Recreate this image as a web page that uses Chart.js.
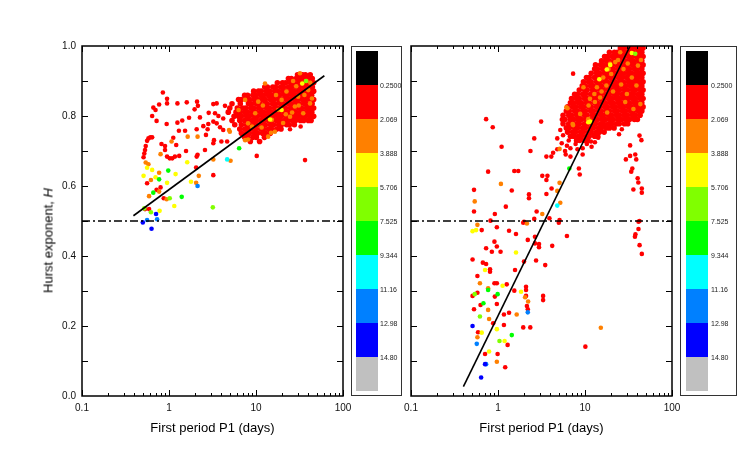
<!DOCTYPE html>
<html>
<head>
<meta charset="utf-8">
<script src="https://cdn.jsdelivr.net/npm/chart.js@4.4.0/dist/chart.umd.min.js"></script>
<style>
body{margin:0;background:#fff;font-family:"Liberation Sans",Arial,sans-serif;}
#wrap{position:relative;width:747px;height:467px;overflow:hidden;background:#fff}
canvas{position:absolute;left:0;top:0}
.xtitle{position:absolute;top:420px;width:261px;text-align:center;font-size:13px;line-height:15px;color:#000}
.ytitle{position:absolute;left:-52px;top:233px;width:200px;text-align:center;font-size:13px;line-height:15px;color:#000;transform:rotate(-90deg)}
.cbox{position:absolute;top:46px;height:350px;border:1px solid #333;box-sizing:border-box}
.seg{position:absolute;width:22px;height:34px}
.lab{position:absolute;font-size:7px;line-height:8px;color:#222;white-space:nowrap}
</style>
</head>
<body>
<div id="wrap">
<canvas id="left" width="747" height="467"></canvas>
<canvas id="right" width="747" height="467"></canvas>
<div class="ytitle">Hurst exponent, <i>H</i></div>
<div class="xtitle" style="left:82px">First period P1 (days)</div>
<div class="xtitle" style="left:411px">First period P1 (days)</div>
<div class="cbox" id="cb1" style="left:351px;width:51px"></div>
<div class="cbox" id="cb2" style="left:680px;width:57px"></div>
</div>
<script>
const FONT = '"Liberation Sans", Arial, sans-serif';

/* axes and colour scale */
const xTicks = [0.1, 1, 10, 100];
const xTickLabels = ["0.1", "1", "10", "100"];
const yTicks = [0, 0.2, 0.4, 0.6, 0.8, 1.0];
const yMarks = [0.1, 0.2, 0.3, 0.4, 0.5, 0.6, 0.7, 0.8, 0.9];
const levelLabels = ["0.2500","2.069","3.888","5.706","7.525","9.344","11.16","12.98","14.80"];
const levelColors = ["#000000","#ff0000","#ff8000","#ffff00","#80ff00","#00ff00","#00ffff","#0080ff","#0000ff","#c0c0c0"];
const refLevel = 0.5;

/* ===== LEFT PANEL: [P1 days, H] ===== */
// dense cloud, rows of [H, [P1...]]
const leftCloud = [
[0.918,[30.0,34.2,37.0,42.0]],
[0.907,[23.6,25.5,29.0,31.6,36.0,39.2,44.3]],
[0.895,[17.6,20.2,22.0,24.9,27.0,30.8,33.5,37.8,41.2,46.0]],
[0.883,[12.6,13.5,15.6,16.8,19.2,20.7,23.6,25.6,29.2,31.6,36.0,39.2,44.5]],
[0.871,[9.4,10.7,11.5,13.2,14.3,16.4,17.7,20.2,21.8,24.9,27.0,30.8,33.4,38.0,41.3,46.0]],
[0.859,[7.4,8.0,9.2,9.9,11.3,12.2,13.9,15.1,17.3,18.6,21.3,23.0,26.2,28.5,32.4,35.2,40.0,43.6]],
[0.847,[6.3,6.8,7.8,8.4,9.6,10.4,11.9,12.8,14.7,15.9,18.2,19.6,22.4,24.3,27.7,30.0,34.2,37.1,42.2,46.0]],
[0.835,[5.3,6.6,8.2,8.9,10.1,11.0,12.6,13.5,15.5,16.8,19.1,20.7,23.6,25.6,29.1,31.6,36.0,39.1,44.2]],
[0.823,[5.0,6.1,7.0,7.6,8.7,9.4,10.7,11.5,13.2,14.3,16.3,17.7,20.2,21.8,24.9,27.0,30.8,33.4,38.0,41.3,46.0]],
[0.811,[4.8,5.9,6.5,7.4,8.0,9.1,9.9,11.3,12.2,13.9,15.1,17.2,18.6,21.2,23.1,26.2,28.5,32.4,35.2,40.0,43.8]],
[0.799,[5.6,6.3,6.8,7.8,8.4,9.6,10.4,11.9,12.8,14.7,15.9,18.1,19.6,22.4,24.3,27.7,30.1,34.2,37.1,42.1,46.0]],
[0.787,[5.3,6.5,7.4,8.0,9.1,9.9,11.3,12.2,13.9,15.1,17.2,18.6,21.3,23.1,26.2,28.5,32.4,35.3,40.0,43.0]],
[0.775,[5.7,6.8,7.8,8.4,9.6,10.4,11.9,12.8,14.7,15.9,18.2,19.6,22.5,24.2,27.6]],
[0.763,[6.5,7.4,8.0,9.2,9.9,11.3,12.2,13.9,15.1,17.3,19.4]],
[0.751,[6.8,7.8,8.4,9.6,10.4,11.9,12.8,14.6]],
[0.739,[7.4,8.0,9.2,10.1,12.5]],
[0.727,[8.6,11.0]]
];
const leftRed = [
[0.85,0.867],[0.95,0.849],[0.95,0.836],[0.77,0.833],[0.66,0.824],[0.70,0.817],[0.64,0.80],[0.72,0.786],[0.94,0.777],
[1.25,0.836],[1.6,0.839],[2.1,0.841],[2.15,0.829],[1.97,0.819],[1.70,0.795],[1.42,0.787],[1.25,0.781],[1.30,0.758],[1.53,0.758],[1.12,0.738],
[0.61,0.739],[0.64,0.739],[0.58,0.736],[0.56,0.729],[0.54,0.714],[0.53,0.703],[0.52,0.693],[0.51,0.682],
[0.82,0.72],[0.90,0.714],[0.90,0.703],[0.95,0.684],[1.02,0.679],[1.09,0.679],[1.17,0.684],[1.31,0.686],[1.21,0.717],[1.57,0.70],
[2.08,0.684],[2.13,0.689],[2.59,0.703],[3.23,0.722],[3.29,0.731],[2.66,0.746],[2.78,0.762],[2.83,0.777],[3.23,0.784],[3.53,0.779],[3.86,0.768],[4.2,0.76],[4.0,0.727],[4.66,0.727],
[4.4,0.829],[3.53,0.836],[3.23,0.834],[2.86,0.809],[3.38,0.808],[3.7,0.80],[4.2,0.793],[2.27,0.796],[2.08,0.762],[2.48,0.771],
[3.23,0.631],[2.05,0.653],[10.2,0.686],[36.6,0.674],[24.6,0.762],[32.6,0.770],
[0.53,0.534],[0.59,0.534],[0.87,0.565],[0.80,0.596],[0.72,0.589],[0.56,0.608]
];
const leftOrange = [
[0.54,0.667],[0.58,0.662],[0.80,0.691],[1.07,0.727],[1.64,0.741],[2.13,0.741],[3.23,0.676],[5.1,0.672],[2.2,0.629],[2.05,0.609],
[0.77,0.638],[0.62,0.617],[0.59,0.571],[0.77,0.584],[0.94,0.562],[14.9,0.752],[8.1,0.733],[4.9,0.76],
[5.0,0.755],[6.3,0.817],[7.5,0.731],[8.1,0.779],[9.8,0.808],[10.6,0.841],[11.6,0.767],[15.2,0.789],[16.5,0.755],[18,0.817],
[19.7,0.846],[22.4,0.87],[24.6,0.798],[26.7,0.90],[28,0.827],[30.5,0.855],[34.9,0.808],[39.8,0.874],[41.8,0.836],[12.7,0.893],
[7.5,0.846],[32,0.922],[13.8,0.741],[20.5,0.78],[26,0.81],[36,0.86],[44,0.85],[17,0.86],[12,0.83],[29,0.885],[38,0.9],[22,0.805],
[9,0.77],[42,0.895],[31,0.83]
];
const leftYellow = [[0.56,0.652],[0.64,0.646],[0.51,0.629],[0.70,0.625],[0.95,0.609],[1.19,0.634],[1.62,0.668],[1.79,0.612],[1.15,0.543],[0.78,0.529],[19.7,0.817],[14.5,0.79],[34,0.893]];
const leftLime = [[1.02,0.565],[0.62,0.525],[3.19,0.539],[0.52,0.536],[37.5,0.90]];
const leftGreen = [[0.77,0.619],[0.66,0.581],[1.40,0.569],[6.4,0.708],[0.98,0.644]];
const leftCyan = [[4.66,0.676]];
const leftAzure = [[2.13,0.60],[0.56,0.503],[0.73,0.505]];
const leftBlue = [[0.71,0.52],[0.50,0.496],[0.63,0.478]];
const leftFit = [[0.39,0.515],[61,0.915]];

/* ===== RIGHT PANEL: [P1 days, H] ===== */
const rightCloud = [
[0.994,[25.5,27.8,31.6,34.4,39.0,42.4,46.5]],
[0.982,[19.1,21.8,23.6,26.9,29.3,33.3,36.1,41.0,45.0]],
[0.970,[16.8,18.1,20.7,22.4,25.5,27.8,31.6,34.3,39.0,42.4,46.5]],
[0.958,[15.5,17.6,19.1,21.8,23.6,26.9,29.3,33.3,36.1,41.0,45.0]],
[0.946,[13.2,15.1,16.3,18.6,20.2,23.0,24.9,28.4,30.8,35.1,38.1,43.3,46.5]],
[0.934,[12.9,13.9,15.9,17.2,19.6,21.2,24.2,26.3,30.0,32.5,37.0,40.1,45.0]],
[0.922,[11.8,13.6,14.7,16.8,18.1,20.7,22.4,25.5,27.8,31.6,34.3,39.0,42.4,46.5]],
[0.910,[10.4,11.2,12.9,13.9,15.9,17.2,19.6,21.2,24.2,26.3,30.0,32.5,37.0,40.2,45.0]],
[0.898,[9.6,11.0,11.8,13.6,14.7,16.8,18.1,20.7,22.4,25.5,27.7,31.6,34.3,39.0,42.4,46.5]],
[0.886,[9.3,10.1,11.6,12.5,14.3,15.4,17.6,19.1,21.8,23.6,26.9,29.3,33.3,36.1,41.0,45.0]],
[0.874,[8.6,9.9,10.6,12.2,13.2,15.1,16.3,18.6,20.2,23.0,24.9,28.4,30.8,35.1,38.0,43.3,46.5]],
[0.862,[7.6,8.2,9.4,10.1,11.6,12.5,14.3,15.4,17.6,19.1,21.8,23.6,26.9,29.3,33.3,36.1,41.0,45.0]],
[0.850,[7.0,8.0,8.6,9.9,10.6,12.2,13.2,15.1,16.3,18.6,20.2,23.0,24.9,28.4,30.8,35.1,38.0,43.3,46.5]],
[0.838,[6.8,7.4,8.4,9.1,10.4,11.2,12.9,13.9,15.9,17.2,19.6,21.2,24.2,26.3,30.0,32.5,37.0,40.1,45.0]],
[0.826,[6.3,7.2,7.8,8.9,9.6,11.0,11.8,13.6,14.7,16.8,18.1,20.7,22.4,25.5,27.7,31.6,34.3,39.0,42.4,46.5]],
[0.814,[6.1,6.6,7.6,8.2,9.4,10.1,11.6,12.5,14.3,15.4,17.6,19.1,21.8,23.6,26.9,29.3,33.3,36.1,41.0,45.0]],
[0.802,[5.6,6.5,7.0,8.0,8.6,9.9,10.6,12.2,13.2,15.1,16.3,18.6,20.2,23.0,24.9,28.4,30.8,35.1,38.0,43.0]],
[0.790,[5.5,5.9,6.8,7.4,8.4,9.1,10.4,11.2,12.9,13.9,15.9,17.2,19.6,21.2,24.2,26.3,30.0,32.5,37.0,40.0]],
[0.778,[5.6,6.5,7.0,8.0,8.6,9.9,10.6,12.2,13.2,15.1,16.3,18.6,20.2,23.0,24.8,28.4,31.0]],
[0.766,[6.1,6.6,7.6,8.2,9.4,10.1,11.6,12.5,14.3,15.4,17.6,19.1,21.6]],
[0.754,[6.3,7.2,7.8,8.9,9.6,11.0,11.8,13.6,14.7,16.6]],
[0.742,[6.8,7.4,8.4,9.1,10.4,11.2,12.9,14.0]],
[0.730,[8.0,8.7,9.9,10.7]]
];
const rightRed = [
[0.65,0.474],[0.73,0.422],[0.51,0.39],[0.67,0.381],[0.73,0.377],[0.81,0.362],[0.81,0.355],[0.58,0.343],[0.91,0.322],[0.97,0.322],
[0.58,0.295],[0.51,0.286],[0.63,0.26],[0.92,0.284],[0.97,0.263],[0.53,0.248],[0.88,0.208],[0.59,0.182],[0.71,0.12],[0.99,0.12],
[1.21,0.082],[1.17,0.233],[1.17,0.203],[1.29,0.146],[1.34,0.238],[1.26,0.319],[1.54,0.301],[1.57,0.36],[0.85,0.412],[1.07,0.412],
[0.97,0.427],[0.91,0.441],[0.97,0.482],[1.34,0.472],[1.61,0.463],[1.99,0.498],[2.2,0.446],[1.99,0.384],[2.1,0.312],[2.1,0.303],
[2.1,0.286],[2.15,0.257],[2.2,0.248],[1.95,0.196],[2.35,0.196],[2.74,0.387],[2.66,0.455],[2.66,0.436],[2.96,0.434],[2.96,0.425],
[4.2,0.429],[3.49,0.374],[3.3,0.286],[3.3,0.274],[6.2,0.457],[10.1,0.141],[37.5,0.455],[41.2,0.477],[42.4,0.431],[45,0.406],
[41.2,0.498],[5.0,0.495],
[0.73,0.791],[0.87,0.768],[1.10,0.712],[0.77,0.641],[0.53,0.589],[0.53,0.527],[1.23,0.541],[0.92,0.52],[0.82,0.501],
[1.44,0.587],[1.54,0.643],[1.71,0.643],[1.95,0.495],[2.27,0.576],[2.27,0.565],[2.36,0.70],[2.61,0.736],[2.78,0.527],[3.13,0.784],
[3.23,0.629],[3.7,0.629],[3.6,0.617],[4.13,0.593],[3.6,0.577],[2.61,0.506],[3.9,0.508],[5.1,0.503],[3.6,0.684],[4.1,0.684],
[4.3,0.695],[4.8,0.705],[4.8,0.736],[5.2,0.76],[5.4,0.722],[6.0,0.69],[5.9,0.70],[6.8,0.708],[6.8,0.684],[7.3,0.921],
[8.5,0.65],[8.7,0.633],[9.4,0.708],[9.4,0.69],[11.7,0.727],[11.9,0.712],[14.2,0.738],[24.6,0.748],[26.5,0.762],[33,0.716],
[33,0.686],[29.5,0.676],[35,0.65],[38.8,0.676],[37.8,0.69],[40.3,0.622],[41,0.61],[45,0.593],[45,0.581],[34,0.641],
[36,0.59],[42.3,0.744],[44.5,0.731],[42.3,0.50],[38,0.462],[14.6,0.76],[12.5,0.746],[16.7,0.774],
[5.6,0.745],[6.5,0.73],[7.8,0.72],[9,0.735],[10.5,0.72],[6.2,0.715],[7.5,0.745],[13,0.725],[8.2,0.705]
];
const rightOrange = [
[0.58,0.489],[0.62,0.322],[0.77,0.308],[2.22,0.27],[2.05,0.282],[0.77,0.246],[0.79,0.22],[1.64,0.233],[0.58,0.168],[0.97,0.098],
[15.2,0.195],[2.15,0.493],[6.3,0.822],[7.3,0.774],[5.1,0.706],[1.08,0.606],[5.1,0.609],[4.8,0.586],[5.2,0.552],[3.23,0.52],[0.54,0.556],
[25.4,0.982],[19.4,0.949],[18.6,0.934],[16.2,0.91],[17.6,0.887],[13.7,0.882],[12.8,0.863],[11.4,0.849],[14.9,0.853],[34.5,0.91],
[39,0.887],[30.3,0.863],[9.6,0.882],[6.1,0.825],[7.2,0.777],[8.8,0.806],[22.3,0.954],[27.7,0.934],[40.6,0.944],[43.3,0.834],[10.9,0.791],
[20,0.92],[24,0.96],[15.5,0.87],[13,0.84],[11,0.83],[26,0.89],[21,0.87],[31,0.95],[36,0.82],[44,0.96],[18,0.81],[29,0.84]
];
const rightYellow = [[0.51,0.471],[0.56,0.474],[1.61,0.41],[0.71,0.36],[1.13,0.315],[1.84,0.298],[0.97,0.191],[0.65,0.181],[1.19,0.157],[0.79,0.127],[11.5,0.784],[14.6,0.905],[17.8,0.933],[19.5,0.946],[34.5,0.98],[10.9,0.782]];
const rightLime = [[0.54,0.291],[0.62,0.227],[1.04,0.157],[37.8,0.978]];
const rightGreen = [[0.77,0.303],[0.99,0.291],[0.68,0.265],[1.44,0.174],[6.6,0.65]];
const rightCyan = [[4.8,0.544]];
const rightAzure = [[2.2,0.239],[0.57,0.149],[0.73,0.091]];
const rightBlue = [[0.51,0.20],[0.71,0.091],[0.64,0.053]];
const rightFit = [[0.40,0.027],[33,1.0]];

/* ===== helpers ===== */
const pts = a => a.map(([x,y]) => ({x, y}));
const cloud = r => r.flatMap(([h,ps]) => ps.map(p => ({x:p, y:h})));

function dots(data, color, r){
  return {data, backgroundColor:color, pointBackgroundColor:color, pointBorderWidth:0,
          borderWidth:0, pointRadius:r || 2.3, pointHoverRadius:r || 2.3};
}
function line(data, dash, w){
  return {data, showLine:true, borderColor:"#000", borderWidth:w, borderDash:dash, pointRadius:0, fill:false};
}
function panelSets(fit, blue, azure, cyan, green, lime, yellow, orange, red, cl){
  // first dataset is drawn on top
  return [
    line(pts(fit), [], 1.6),
    line([{x:0.1,y:refLevel},{x:100,y:refLevel}], [8,3,2,3], 1.5),
    dots(pts(blue), levelColors[8]),
    dots(pts(azure), levelColors[7]),
    dots(pts(cyan), levelColors[6]),
    dots(pts(green), levelColors[5]),
    dots(pts(lime), levelColors[4]),
    dots(pts(yellow), levelColors[3]),
    dots(pts(orange), levelColors[2]),
    dots(pts(red), levelColors[1]),
    dots(cloud(cl), levelColors[1], 2.8)
  ];
}

/* frame with inward ticks on four sides */
const frameTicks = {
  id:"frameTicks",
  afterDraw(chart){
    const {ctx, chartArea:a, scales:{x, y}} = chart;
    ctx.save();
    ctx.strokeStyle = "#000";
    ctx.lineWidth = 1;
    ctx.beginPath();
    yMarks.forEach(v => {
      const py = Math.round(y.getPixelForValue(v)) + 0.5;
      ctx.moveTo(a.left, py); ctx.lineTo(a.left + 6, py);
      ctx.moveTo(a.right, py); ctx.lineTo(a.right - 6, py);
    });
    for (let d = 0.1; d < 99; d *= 10){
      for (let m = 1; m <= 10; m++){
        const v = d * m;
        const px = Math.round(x.getPixelForValue(v)) + 0.5;
        const len = (m === 1 || m === 10) ? 6 : 3;
        ctx.moveTo(px, a.bottom); ctx.lineTo(px, a.bottom - len);
        ctx.moveTo(px, a.top); ctx.lineTo(px, a.top + len);
      }
    }
    ctx.stroke();
    ctx.lineWidth = 1.5;
    ctx.strokeRect(a.left, a.top, a.right - a.left, a.bottom - a.top);
    ctx.restore();
  }
};

function makePanel(id, pad, showY, sets){
  new Chart(document.getElementById(id), {
    type:"scatter",
    data:{datasets:sets},
    options:{
      responsive:false,
      animation:false,
      events:[],
      layout:{padding:pad},
      plugins:{legend:{display:false}, tooltip:{enabled:false}},
      scales:{
        x:{
          type:"logarithmic", min:0.1, max:100,
          grid:{display:false, drawTicks:false}, border:{display:false},
          afterBuildTicks:s => { s.ticks = xTicks.map(v => ({value:v})); },
          ticks:{autoSkip:false, maxRotation:0, padding:6, color:"#111",
                 font:{family:FONT, size:10},
                 callback:(v, i) => xTickLabels[i]},
          afterFit:s => { s.height = 71; s.paddingLeft = 0; s.paddingRight = 0; }
        },
        y:{
          min:0, max:1, display:showY,
          grid:{display:false, drawTicks:false}, border:{display:false},
          afterBuildTicks:s => { s.ticks = yTicks.map(v => ({value:v})); },
          ticks:{padding:6, color:"#111", font:{family:FONT, size:10},
                 callback:v => v.toFixed(1)},
          afterFit:s => { s.width = showY ? 82 : 0; s.paddingTop = 0; s.paddingBottom = 0; }
        }
      }
    },
    plugins:[frameTicks]
  });
}

makePanel("left", {left:0, right:404, top:46, bottom:0}, true,
  panelSets(leftFit, leftBlue, leftAzure, leftCyan, leftGreen, leftLime, leftYellow, leftOrange, leftRed, leftCloud));
makePanel("right", {left:411, right:75, top:46, bottom:0}, false,
  panelSets(rightFit, rightBlue, rightAzure, rightCyan, rightGreen, rightLime, rightYellow, rightOrange, rightRed, rightCloud));

/* colour bars */
function colorBar(id, barLeft, labLeft){
  const box = document.getElementById(id);
  levelColors.forEach((c, i) => {
    const s = document.createElement("div");
    s.className = "seg";
    s.style.cssText = `left:${barLeft}px;top:${4 + i*34}px;background:${c}`;
    box.appendChild(s);
  });
  levelLabels.forEach((t, i) => {
    const l = document.createElement("div");
    l.className = "lab";
    l.style.cssText = `left:${labLeft}px;top:${4 + (i+1)*34 - 3}px`;
    l.textContent = t;
    box.appendChild(l);
  });
}
colorBar("cb1", 4, 28);
colorBar("cb2", 5, 30);
</script>
</body>
</html>
